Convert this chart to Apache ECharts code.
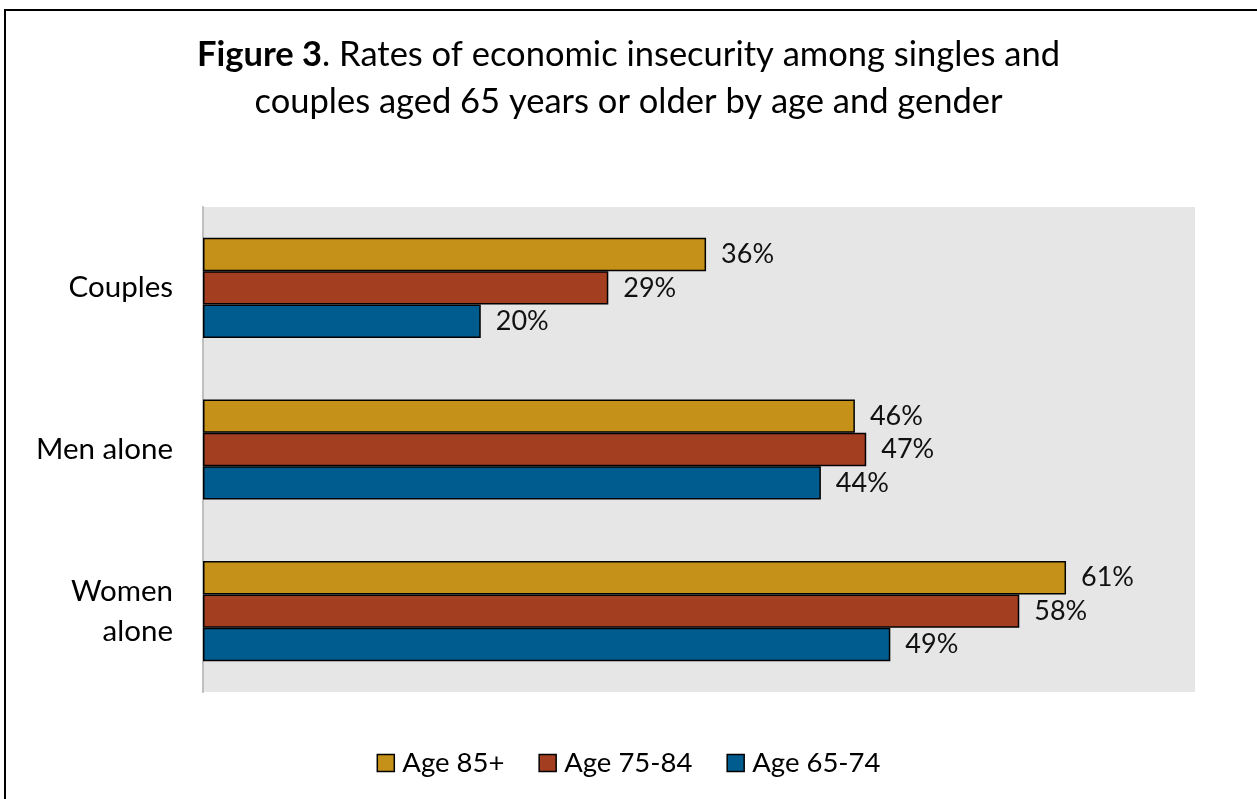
<!DOCTYPE html>
<html>
<head>
<meta charset="utf-8">
<script src="https://cdn.jsdelivr.net/npm/echarts@6/dist/echarts.min.js"></script>
<style>
  html, body { margin: 0; padding: 0; background: #fff; }
  #chart { width: 1257px; height: 799px; }
</style>
</head>
<body>
<div id="chart"></div>
<script>
var categories = ['Couples', 'Men alone', 'Women\nalone'];
var seriesNames = ['Age 85+', 'Age 75-84', 'Age 65-74'];
var age85 = [35.5, 46.0, 60.9];
var age75 = [28.6, 46.8, 57.6];
var age65 = [19.6, 43.6, 48.5];
var colors = ['#C59118', '#A33F20', '#005B8F'];
var font = 'Lato, "Open Sans", sans-serif';

function barSeries(name, values, color) {
	return {
		name: name,
		type: 'bar',
		data: values,
		barGap: '0%',
		barCategoryGap: '38%',
		itemStyle: { color: color, borderColor: '#000', borderWidth: 1.5 },
		label: {
			show: true,
			position: 'right',
			distance: 15,
			color: '#111',
			fontSize: 27,
			fontFamily: font,
			formatter: function (p) { return Math.round(p.value) + '%'; }
		}
	};
}

var chart = echarts.init(document.getElementById('chart'));
chart.setOption({
	animation: false,
	textStyle: { fontFamily: font },
	graphic: [{
		type: 'rect',
		silent: true,
		shape: { x: 5, y: 10, width: 1400, height: 900 },
		style: { fill: 'none', stroke: '#000', lineWidth: 2 }
	}],
	title: {
		text: '{b|Figure 3}. Rates of economic insecurity among singles and\ncouples aged 65 years or older by age and gender',
		left: 'center',
		top: 26,
		textStyle: {
			fontSize: 34.5,
			fontWeight: 'normal',
			color: '#000',
			lineHeight: 47,
			fontFamily: font,
			rich: {
				b: { fontSize: 34.5, fontWeight: 'bold', color: '#000', fontFamily: font, lineHeight: 47 }
			}
		}
	},
	legend: {
		data: seriesNames,
		bottom: 17,
		left: 'center',
		itemWidth: 17,
		itemHeight: 17,
		itemGap: 34,
		icon: 'rect',
		itemStyle: { borderColor: '#000', borderWidth: 1.5 },
		textStyle: { fontSize: 27.5, color: '#000', fontFamily: font, padding: [0, 0, 0, 3] }
	},
	grid: {
		left: 203,
		right: 62,
		top: 207,
		bottom: 107,
		show: true,
		backgroundColor: '#E7E6E6',
		borderWidth: 0,
		containLabel: false
	},
	xAxis: {
		type: 'value',
		min: 0,
		max: 70,
		axisLabel: { show: false },
		axisLine: { show: false },
		axisTick: { show: false },
		splitLine: { show: false }
	},
	yAxis: {
		type: 'category',
		data: categories,
		inverse: true,
		axisLine: { show: true, lineStyle: { color: '#BFBFBF', width: 2 } },
		axisTick: { show: false },
		axisLabel: { fontSize: 29.5, color: '#000', margin: 30, lineHeight: 40, fontFamily: font }
	},
	series: [
		barSeries(seriesNames[0], age85, colors[0]),
		barSeries(seriesNames[1], age75, colors[1]),
		barSeries(seriesNames[2], age65, colors[2])
	]
});
</script>
</body>
</html>
